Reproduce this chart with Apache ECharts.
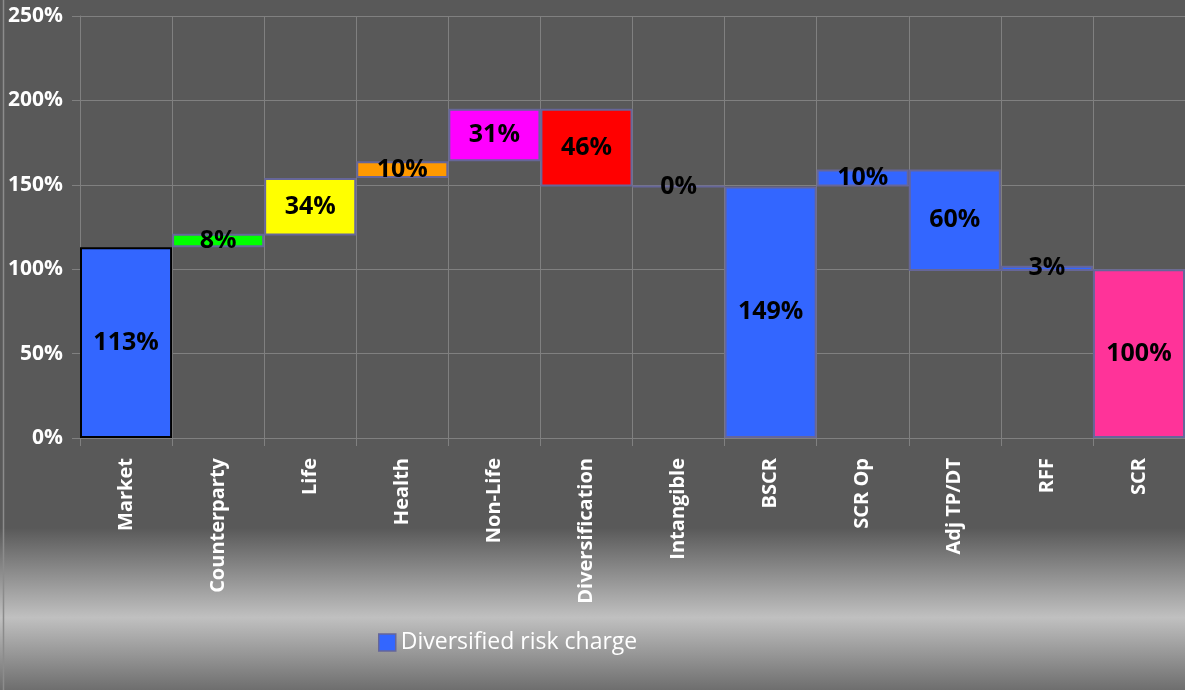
<!DOCTYPE html>
<html>
<head>
<meta charset="utf-8">
<script src="https://cdn.jsdelivr.net/npm/echarts@6/dist/echarts.min.js"></script>
<style>html,body{margin:0;padding:0;background:#595959;}#c{width:1185px;height:690px;}</style>
</head>
<body>
<div id="c"></div>
<script>
const categories = ['Market','Counterparty','Life','Health','Non-Life','Diversification','Intangible','BSCR','SCR Op','Adj TP/DT','RFF','SCR'];
const baseValues = [0, 113, 120, 154, 164, 149, 149, 0, 149, 99, 99, 0];
const deltaValues = [113, 8, 34, 10, 31, 46, 0, 149, 10, 60, 3, 100];
const barColors = ['#3366FF','#00FF00','#FFFF00','#FF9900','#FF00FF','#FF0000','#3366FF','#3366FF','#3366FF','#3366FF','#3366FF','#FF3399'];
const yTicks = [0, 50, 100, 150, 200, 250];
const seriesName = 'Diversified risk charge';

const chart = echarts.init(document.getElementById('c'), null, {renderer:'canvas'});
const FONT = 'Open Sans';
const option = {
  animation: false,
  backgroundColor: '#595959',
  graphic: [
    {type:'rect', z:-10, silent:true, shape:{x:0,y:0,width:1185,height:690},
     style:{fill:{type:'linear',x:0,y:0,x2:0,y2:1,colorStops:[
       {offset:0,color:'#595959'},{offset:0.765,color:'#595959'},
       {offset:0.895,color:'#c0c0c0'},{offset:1,color:'#6e6e6e'}]}}},
    {type:'line', z:-5, silent:true, shape:{x1:3.5,y1:0,x2:3.5,y2:690}, style:{stroke:'#8c8c8c', lineWidth:1.5}}
  ],
  grid: {left:80, right:0, top:16, bottom:252, containLabel:false},
  legend: {
    left: 373, top: 626, itemWidth:17, itemHeight:17, itemGap:7,
    icon: 'rect',
    data: [seriesName],
    itemStyle: {borderColor:'#666699', borderWidth:1.5},
    textStyle: {color:'#ffffff', fontFamily:FONT, fontSize:23}
  },
  xAxis: {
    type:'category', data: categories,
    axisLine:{show:true, lineStyle:{color:'#808080', width:1}},
    axisTick:{show:true, length:8, lineStyle:{color:'#808080'}},
    splitLine:{show:true, lineStyle:{color:'#808080', width:1}},
    axisLabel:{rotate:90, color:'#ffffff', fontFamily:FONT, fontWeight:'bold', fontSize:20, margin:20, interval:0}
  },
  yAxis: {
    type:'value', min: yTicks[0], max: yTicks[yTicks.length-1], interval: 50,
    axisLine:{show:true, lineStyle:{color:'#808080', width:1}},
    axisTick:{show:true, length:8, lineStyle:{color:'#808080'}},
    splitLine:{show:true, lineStyle:{color:'#808080', width:1}},
    axisLabel:{color:'#ffffff', fontFamily:FONT, fontWeight:'bold', fontSize:21, margin:17, formatter: v => v + '%'}
  },
  series: [
    {type:'bar', name:'base', stack:'w', data: baseValues, barCategoryGap:'0%',
     itemStyle:{color:'transparent', borderWidth:0}, silent:true, legendHoverLink:false},
    {type:'bar', name: seriesName, stack:'w', barCategoryGap:'0%', color:'#3366FF',
     data: deltaValues.map((v,i) => ({value:v, itemStyle:{color:barColors[i], borderColor: i===0 ? '#000000' : '#666699', borderWidth: 2}})),
     label:{show:true, position:'inside', color:'#000000', fontFamily:FONT, fontWeight:'bold', fontSize:25, formatter: p => p.value + '%'}
    }
  ]
};
chart.setOption(option);
</script>
</body>
</html>
